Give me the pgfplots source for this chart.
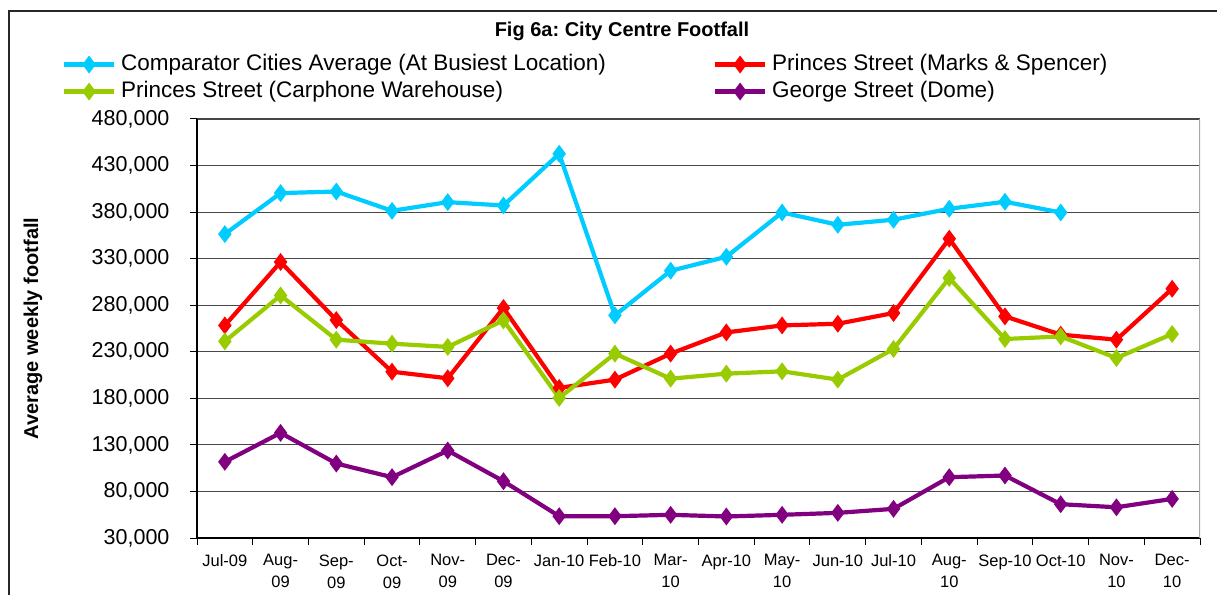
\documentclass[border=0pt]{standalone}
\usepackage{fontspec}
\setmainfont{Liberation Sans}
\usepackage{pgfplots}
\pgfplotsset{compat=1.18}
\frenchspacing
\definecolor{ccyan}{HTML}{00CCFF}
\definecolor{cred}{HTML}{FF0000}
\definecolor{cgreen}{HTML}{99CC00}
\definecolor{cpurple}{HTML}{800080}
\begin{document}
\begin{tikzpicture}[x=1pt,y=1pt]
\begin{axis}[
  at={(197pt,56pt)}, anchor=south west,
  scale only axis, width=1003pt, height=419pt,
  xmin=-0.5, xmax=17.5, ymin=30000, ymax=480000,
  ytick={30000,80000,...,480000},
  xtick={-0.5,0.5,...,17.5}, xticklabels={},
  extra x ticks={0,...,17},
  extra x tick labels={Jul-09,Aug-\\09,Sep-\\09,Oct-\\09,Nov-\\09,Dec-\\09,Jan-10,Feb-10,Mar-\\10,Apr-10,May-\\10,Jun-10,Jul-10,Aug-\\10,Sep-10,Oct-10,Nov-\\10,Dec-\\10},
  extra x tick style={major tick length=0pt, grid=none},
  axis lines=left, axis line style={-, black, line width=1.2pt},
  tick align=outside, major tick length=7pt, tick style={black, line width=1pt},
  ymajorgrids, grid style={black!72, line width=1.1pt},
  scaled y ticks=false,
  /pgf/number format/assume math mode=true,
  yticklabel style={/pgf/number format/fixed, /pgf/number format/1000 sep={,}, font=\fontsize{21.5}{24}\selectfont, xshift=-17pt},
  xticklabel style={font=\fontsize{16.5}{22}\selectfont, align=center, yshift=-13pt},
  ylabel={Average weekly footfall},
  ylabel style={font=\bfseries\fontsize{20}{24}\selectfont, at={(axis description cs:-0.1635,0.5)}, anchor=center},
  legend columns=2,
  legend cell align=left,
  legend style={at={(axis description cs:-0.1346,1.155)}, anchor=north west, draw=none, fill=none,
    inner sep=0pt, outer sep=0pt,
    font=\fontsize{22.5}{27}\selectfont,
    nodes={inner sep=0pt, text height=16pt, text depth=5pt},
    row sep=6pt,
    /tikz/every odd column/.append style={column sep=5pt},
    /tikz/column 2/.append style={column sep=107pt}},
  legend image code/.code={\draw[mark repeat=2,mark phase=2,#1] plot coordinates {(0pt,0pt) (25pt,0pt) (50pt,0pt)};},
  every axis plot/.append style={line width=4.2pt, mark=diamond*, mark size=5.5pt, mark options={solid}},
]
\addplot[ccyan] coordinates {(0,356400) (1,400400) (2,402100) (3,381400) (4,390700) (5,387100) (6,442600) (7,269100) (8,317000) (9,332000) (10,379600) (11,366400) (12,371800) (13,383600) (14,391100) (15,379600)};
\addlegendentry{Comparator Cities Average (At Busiest Location)}
\addplot[cred] coordinates {(0,258300) (1,326400) (2,264100) (3,208600) (4,201500) (5,277000) (6,191200) (7,200100) (8,228000) (9,250800) (10,258300) (11,260100) (12,271600) (13,351400) (14,268000) (15,248400) (16,243000) (17,297700)};
\addlegendentry{Princes Street (Marks \& Spencer)}
\addplot[cgreen] coordinates {(0,241200) (1,290500) (2,243000) (3,238700) (4,235200) (5,263700) (6,180400) (7,228000) (8,201100) (9,206500) (10,209000) (11,200100) (12,233000) (13,309200) (14,243700) (15,246500) (16,223300) (17,249100)};
\addlegendentry{Princes Street (Carphone Warehouse)}
\addplot[cpurple] coordinates {(0,111800) (1,142900) (2,110000) (3,95300) (4,123900) (5,91000) (6,53400) (7,53400) (8,54900) (9,53100) (10,54900) (11,57000) (12,61300) (13,95300) (14,97100) (15,66300) (16,63000) (17,72000)};
\addlegendentry{George Street (Dome)}
\draw[gray!70, line width=1.2pt] (rel axis cs:1,0) -- (rel axis cs:1,1);
\end{axis}
\node[font=\bfseries\fontsize{20}{24}\selectfont] at (622,563) {Fig 6a: City Centre Footfall};
\draw[line width=1.5pt, black!85] (9,-5) -- (9,583) -- (1222,583);
\pgfresetboundingbox
\useasboundingbox (0,0) rectangle (1217,594);
\end{tikzpicture}
\end{document}
